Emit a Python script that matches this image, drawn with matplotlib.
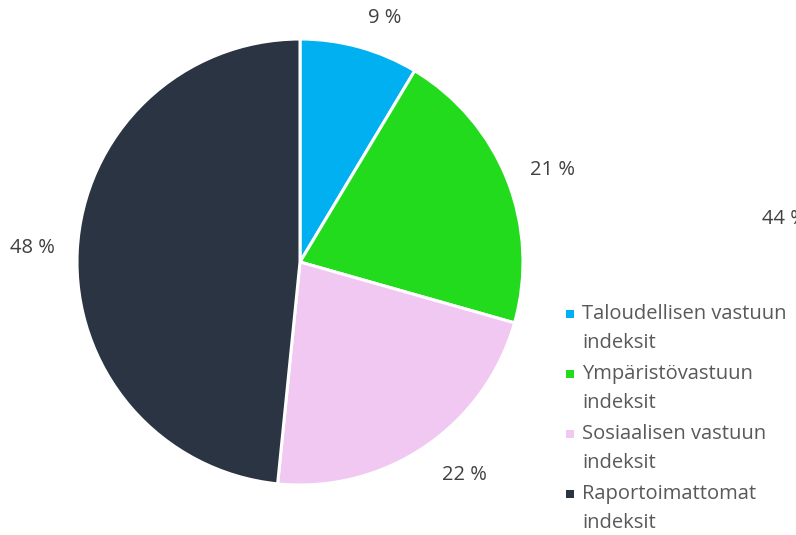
import matplotlib.pyplot as plt
from matplotlib.patches import Rectangle

plt.rcParams["font.family"] = ["Open Sans", "DejaVu Sans"]

categories = [
    "Taloudellisen vastuun\nindeksit",
    "Ympäristövastuun\nindeksit",
    "Sosiaalisen vastuun\nindeksit",
    "Raportoimattomat\nindeksit",
]
shares = [8.6, 20.8, 22.2, 48.4]
colors = ["#00B0F0", "#22DB1C", "#F0C8F2", "#2B3442"]
stray_label = "44 %"

W, H = 796, 535
fig = plt.figure(figsize=(W / 100, H / 100), dpi=100)

# pie axes: centre ~(300, 262) px, radius ~223 px
cx, cy, r = 300, 262, 223
ax = fig.add_axes([(cx - r) / W, (H - cy - r) / H, 2 * r / W, 2 * r / H])
wedges, _, pct_texts = ax.pie(
    shares,
    colors=colors,
    startangle=90,
    counterclock=False,
    autopct=lambda p: f"{p:.0f} %",
    pctdistance=1.2,
    wedgeprops=dict(edgecolor="white", linewidth=2.2),
    textprops=dict(color="#404040", fontsize=14.5),
)
ax.set_xlim(-1, 1)
ax.set_ylim(-1, 1)
ax.set_aspect("equal")
ax.axis("off")

# nudge the data labels to where the reference has them (pixel offsets)
label_px = [(385, 18), (552, 170), (464, 475), (32, 248)]
for t, (px, py) in zip(pct_texts, label_px):
    t.set_position(((px - cx) / r, (cy - py) / r))
    t.set_ha("center")
    t.set_va("center")

# label from a neighbouring chart, cut off by the right edge
fig.text(762 / W, 1 - 219 / H, stray_label, fontsize=14.5, color="#404040",
         ha="left", va="center")

# legend drawn by hand: small square + two text lines per entry
line_gap = 29.5
for i, (lab, col) in enumerate(zip(categories, colors)):
    y0 = 314 + i * 60
    sq = 8
    fig.patches.append(Rectangle((566 / W, 1 - (y0 + sq / 2) / H), sq / W, sq / H,
                                 transform=fig.transFigure, facecolor=col,
                                 edgecolor="none"))
    for j, line in enumerate(lab.split("\n")):
        fig.text(582 / W, 1 - (y0 + j * line_gap) / H, line, fontsize=14.5,
                 color="#595959", ha="left", va="center")

fig.savefig("out.png", dpi=100)
